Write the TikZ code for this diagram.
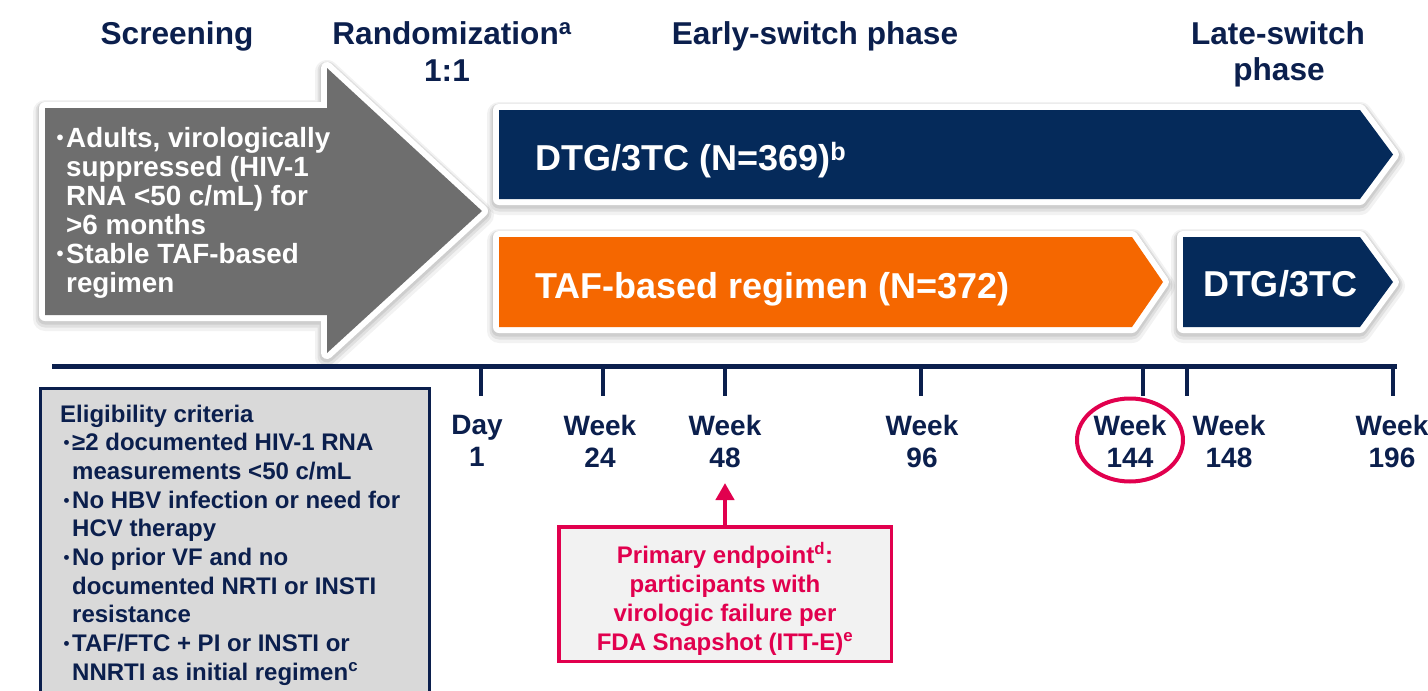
\documentclass[tikz,border=0pt]{standalone}
\usepackage{fontspec}
\setmainfont{Liberation Sans}
\usetikzlibrary{shapes.geometric,arrows.meta}
\definecolor{navytext}{HTML}{0B1F4D}
\definecolor{barnavy}{HTML}{052A5A}
\definecolor{barorange}{HTML}{F56700}
\definecolor{arrowgray}{HTML}{6E6E6E}
\definecolor{crimson}{HTML}{E1004E}
\definecolor{eligfill}{HTML}{D9D9D9}
\definecolor{epfill}{HTML}{F2F2F2}
\newcommand\fsz[2]{\fontsize{#1}{#2}\selectfont\bfseries}
\newcommand\bulA{\llap{\raisebox{3pt}{\fontsize{20}{20}\selectfont•}\kern2.5pt}}
\newcommand\bulB{\llap{\raisebox{2pt}{\fontsize{17}{17}\selectfont•}\kern2.5pt}}
\newcommand\ind{\hspace*{12pt}}
\begin{document}
\begin{tikzpicture}[x=1pt,y=-1pt,
  title/.style={text=navytext, font=\fsz{31.6}{36}, inner sep=0, anchor=base},
  bartext/.style={text=white, font=\fsz{36}{40}, inner sep=0},
  halo/.style={
    preaction={draw=black, draw opacity=0.05, line width=24pt, line join=round, transform canvas={yshift=-4pt}},
    preaction={draw=black, draw opacity=0.07, line width=19pt, line join=round, transform canvas={yshift=-3pt}},
    preaction={draw=black, draw opacity=0.08, line width=15pt, line join=round, transform canvas={yshift=-2pt}}},
  bar/.style={halo, preaction={draw=white, line width=12pt, line join=round}},
  ticklabel/.style={text=navytext, font=\fsz{28}{32}, inner sep=0, anchor=north, align=center},
  tickline/.style={draw=navytext, line width=4.5pt},
]
\useasboundingbox (0,0) rectangle (1428,691);
\fill[white] (0,0) rectangle (1428,691);

% titles
\node[title] (scr) at (177,44) {Screening};
\node[title] (rand) at (452,44) {Randomization\textsuperscript{a}};
\node[title] (ratio) at (447,81) {1:1};
\node[title] (early) at (815,44) {Early-switch phase};
\node[title] (late1) at (1278,44) {Late-switch};
\node[title] (late2) at (1279,80) {phase};

% screening arrow
\path[bar, fill=arrowgray] (45,108) -- (327,108) -- (327,68) -- (482,211)
  -- (327,353) -- (327,315) -- (45,315) -- cycle;
\node[text=white, font=\fsz{27.8}{29}, inner sep=0, anchor=north west, align=left] (scrtext) at (66,127.5)
  {\bulA Adults, virologically\\suppressed (HIV-1\\RNA <50 c/mL) for\\>6 months\\\bulA Stable TAF-based\\regimen};

% arms
\path[bar, fill=barnavy] (499,110) -- (1360,110) -- (1393,154.5) -- (1360,199) -- (499,199) -- cycle;
\path[bar, fill=barorange] (499,237) -- (1132,237) -- (1163,282) -- (1132,327) -- (499,327) -- cycle;
\path[bar, fill=barnavy] (1183,237) -- (1360,237) -- (1393,282) -- (1360,327) -- (1183,327) -- cycle;
\node[bartext, anchor=base west] (dtg) at (535,170) {DTG/3TC (N=369)\textsuperscript{b}};
\node[bartext, anchor=base west] (taf) at (535,298) {TAF-based regimen (N=372)};
\node[bartext, anchor=base] (dtg2) at (1280,296) {DTG/3TC};

% timeline
\coordinate (tlL) at (52,366.5);
\coordinate (tlR) at (1397,366.5);
\draw[navytext, line width=5pt] (tlL) -- (tlR);
\foreach \n/\x in {d1/481, w24/603, w48/725, w96/921, w144/1143, w148/1187, w196/1393}{
  \coordinate (top\n) at (\x,366.5);
  \coordinate (bot\n) at (\x,396);
  \draw[tickline] (top\n) -- (bot\n);
}
\node[ticklabel] (ld1) at (477,415) {Day\\1};
\node[ticklabel] (lw24) at (600,415) {Week\\24};
\node[ticklabel] (lw48) at (725,415) {Week\\48};
\node[ticklabel] (lw96) at (922,415) {Week\\96};
\node[ticklabel] (lw144) at (1130,415) {Week\\144};
\node[ticklabel] (lw148) at (1229,415) {Week\\148};
\node[ticklabel] (lw196) at (1392,415) {Week\\196};
\node[draw=crimson, line width=4pt, ellipse, minimum width=106, minimum height=83, inner sep=0] (circ) at (1130,440) {};

% eligibility box
\draw[navytext, line width=3pt, fill=eligfill] (40,388.5) rectangle (429,720);
\node[text=navytext, font=\fsz{24}{28.7}, inner sep=0, anchor=north west, align=left] (elig) at (60,404.5)
  {Eligibility criteria\\
   \ind\bulB ≥2 documented HIV-1 RNA\\
   \ind measurements <50 c/mL\\
   \ind\bulB No HBV infection or need for\\
   \ind HCV therapy\\
   \ind\bulB No prior VF and no\\
   \ind documented NRTI or INSTI\\
   \ind resistance\\
   \ind\bulB TAF/FTC + PI or INSTI or\\
   \ind NNRTI as initial regimen\textsuperscript{c}};

% primary endpoint
\node[draw=crimson, line width=3.5pt, fill=epfill, minimum width=332.5, minimum height=134.5, inner sep=0] (ep) at (725,594) {};
\node[text=crimson, font=\fsz{24}{29}, inner sep=0, anchor=north, align=center] (eptext) at (725,542.5)
  {Primary endpoint\textsuperscript{d}:\\participants with\\virologic failure per\\FDA Snapshot (ITT-E)\textsuperscript{e}};
\coordinate (a48) at (725,483);
\draw[crimson, line width=4.5pt, -{Triangle[width=18pt,length=17pt]}] (ep.north) -- (a48);
\end{tikzpicture}
\end{document}
